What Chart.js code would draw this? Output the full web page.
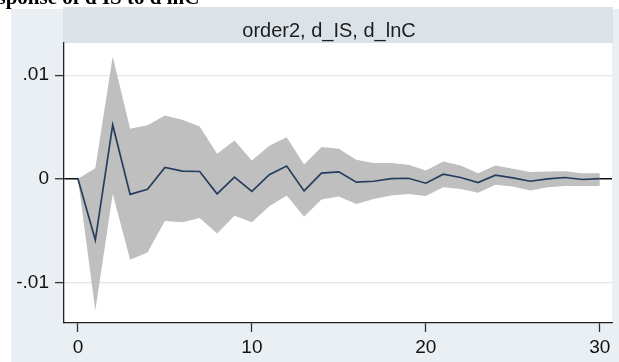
<!DOCTYPE html>
<html>
<head>
<meta charset="utf-8">
<script src="https://cdn.jsdelivr.net/npm/chart.js@4/dist/chart.umd.min.js"></script>
<style>
    html, body { margin: 0; padding: 0; background: #ffffff; overflow: hidden; }
    #wrap { position: relative; width: 619px; height: 362px; }
    #myChart { position: absolute; left: 0; top: 0; }
    #caption {
        position: absolute; left: -27px; top: -13px;
        font: bold 21px "Liberation Serif", "Times New Roman", serif;
        line-height: 21px; color: #000; white-space: nowrap;
    }
</style>
</head>
<body>
<div id="wrap">
    <canvas id="myChart" width="619" height="362"></canvas>
    <div id="caption">Response of d IS to d lnC</div>
</div>
<script>
//Horizon steps and the impulse response with its confidence band
var steps = [0, 1, 2, 3, 4, 5, 6, 7, 8, 9, 10, 11, 12, 13, 14, 15, 16, 17, 18, 19, 20, 21, 22, 23, 24, 25, 26, 27, 28, 29, 30];

var irf = [0, -0.0059, 0.0052, -0.0015, -0.001, 0.0011, 0.00074, 0.00071, -0.00145, 0.00016,
    -0.0012, 0.0004, 0.00123, -0.00116, 0.00055, 0.00068, -0.00032, -0.00023, 0.00003, 0.00006,
    -0.00042, 0.00045, 0.00013, -0.00035, 0.00035, 0.0001, -0.00023, 0, 0.00013, -0.00006, 0.00003];

var upper = [0, 0.00103, 0.0118, 0.00484, 0.00516, 0.0061, 0.00571, 0.00506, 0.00242, 0.00371,
    0.00177, 0.00319, 0.004, 0.00139, 0.00306, 0.0029, 0.00184, 0.00152, 0.00152, 0.00135,
    0.00081, 0.00168, 0.00129, 0.00055, 0.00129, 0.00097, 0.00065, 0.00071, 0.00074, 0.00055, 0.00055];

var lower = [0, -0.0127, -0.00145, -0.0078, -0.0071, -0.00406, -0.00419, -0.00377, -0.00526, -0.00355,
    -0.00419, -0.00265, -0.00161, -0.00365, -0.002, -0.0017, -0.00242, -0.00194, -0.00161, -0.00145,
    -0.00165, -0.00081, -0.00097, -0.00135, -0.00058, -0.00074, -0.00113, -0.00081, -0.00068, -0.00068, -0.00068];

var xTicks = [0, 10, 20, 30];
var yTicks = [-0.01, 0, 0.01];
var yTickLabels = ["-.01", "0", ".01"];

var panelTitle = "order2, d_IS, d_lnC";

var labelFont = "Liberation Sans, Arial, sans-serif";

//Pairs each step with a value for the linear x axis
function toPoints(values) {
    var points = [];

    for (var i = 0; i < steps.length; i++) {
        points.push({ x: steps[i], y: values[i] });
    }

    return points
}

//Paints the grey backdrop, the panel header strip with its label and the white plot region
var backdrop = {
    id: "backdrop",
    beforeDraw: function (chart) {
        var ctx = chart.ctx;
        var area = chart.chartArea;

        ctx.save();
        ctx.fillStyle = "#ffffff";
        ctx.fillRect(0, 0, chart.width, chart.height);

        ctx.fillStyle = "#e9eff2";
        ctx.fillRect(11, 9, chart.width - 11, chart.height - 9);

        ctx.fillStyle = "#dbe3e9";
        ctx.fillRect(area.left - 1, 7, area.right - area.left + 2, area.top - 7);

        ctx.fillStyle = "#ffffff";
        ctx.fillRect(area.left, area.top, area.right - area.left, area.bottom - area.top);

        ctx.fillStyle = "#1e1e1e";
        ctx.font = "20px " + labelFont;
        ctx.textAlign = "center";
        ctx.textBaseline = "alphabetic";
        ctx.fillText(panelTitle, 329, 37);
        ctx.restore();
    }
};

var chart = new Chart("myChart", {
    type: "line",
    data: {
        datasets: [{
                label: "lower",
                data: toPoints(lower),
                borderWidth: 0,
                pointRadius: 0,
                fill: false,
                order: 3
            }, {
                label: "upper",
                data: toPoints(upper),
                borderWidth: 0,
                pointRadius: 0,
                backgroundColor: "#bfbfbf",
                fill: 0,
                order: 2
            }, {
                label: "irf",
                data: toPoints(irf),
                borderColor: "#263d5e",
                borderWidth: 1.7,
                pointRadius: 0,
                fill: false,
                order: 1
            }
        ]
    },
    plugins: [backdrop],
    options: {
        responsive: false,
        animation: false,
        layout: {
            padding: { left: 0, right: 7, top: 43, bottom: 0 }
        },
        plugins: {
            legend: { display: false },
            tooltip: { enabled: false },
            title: { display: false }
        },
        scales: {
            x: {
                type: "linear",
                min: -0.8,
                max: 30.7,
                afterBuildTicks: function (scale) {
                    scale.ticks = xTicks.map(function (v) { return { value: v }; });
                },
                afterFit: function (scale) {
                    scale.height = 39;
                },
                grid: {
                    drawOnChartArea: false,
                    tickLength: 9,
                    tickColor: "#333333",
                    tickWidth: 1.3
                },
                border: { color: "#222222", width: 1.3 },
                ticks: {
                    color: "#111111",
                    padding: 4,
                    maxRotation: 0,
                    font: { family: labelFont, size: 19 }
                }
            },
            y: {
                type: "linear",
                min: -0.0139,
                max: 0.0131,
                afterBuildTicks: function (scale) {
                    scale.ticks = yTicks.map(function (v) { return { value: v }; });
                },
                afterFit: function (scale) {
                    scale.width = 64;
                },
                grid: {
                    color: function (c) { return c.tick && c.tick.value === 0 ? "#111111" : "#e6e6e6"; },
                    lineWidth: function (c) { return c.tick && c.tick.value === 0 ? 1.5 : 1.2; },
                    tickLength: 9,
                    tickColor: "#333333",
                    tickWidth: 1.3
                },
                border: { color: "#222222", width: 1.3 },
                ticks: {
                    color: "#111111",
                    padding: 6,
                    font: { family: labelFont, size: 19 },
                    callback: function (value) {
                        var i = yTicks.indexOf(value);
                        return i >= 0 ? yTickLabels[i] : "";
                    }
                }
            }
        }
    }
});
</script>
</body>
</html>
